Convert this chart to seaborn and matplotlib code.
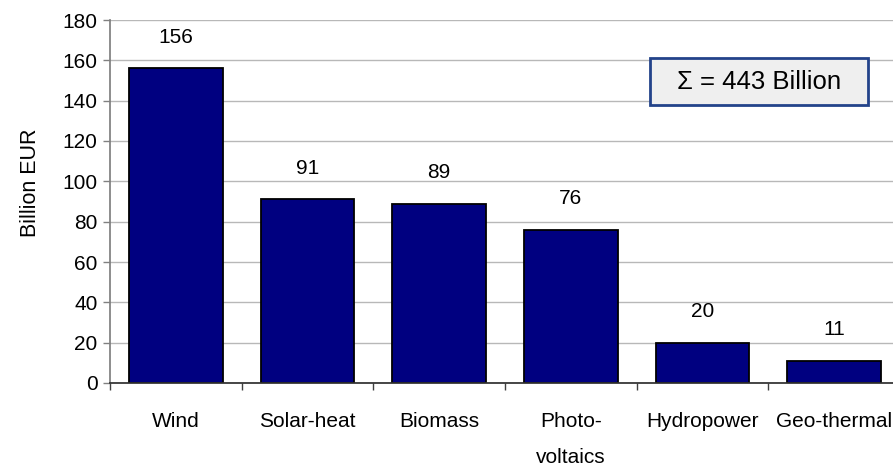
import matplotlib
matplotlib.use("Agg")
import matplotlib.pyplot as plt
from matplotlib.patches import Rectangle
import seaborn as sns
import pandas as pd

categories = ["Wind", "Solar-heat", "Biomass", "Photo-\nvoltaics", "Hydropower", "Geo-thermal"]
values = [156, 91, 89, 76, 20, 11]
yticks = [0, 20, 40, 60, 80, 100, 120, 140, 160, 180]
total_label = "\u03A3 = 443 Billion"

sns.set_theme(style="white")
plt.rcParams['font.family'] = ['Liberation Sans', 'DejaVu Sans']

df = pd.DataFrame({"cat": categories, "val": values})

W, H = 893, 466
fig = plt.figure(figsize=(W / 100, H / 100), dpi=100)
ax = fig.add_axes([110 / W, (H - 383) / H, 790 / W, 363 / H])

sns.barplot(data=df, x="cat", y="val", color="#000080", edgecolor="black",
            linewidth=1.3, width=0.71, saturation=1, ax=ax)

ax.set_ylim(0, 180)
ax.set_xlim(-0.5, len(categories) - 0.5)
ax.set_yticks(yticks)
ax.set_yticklabels([str(t) for t in yticks], fontsize=15)
ax.yaxis.grid(True, color="#b8b8b8", linewidth=1)
ax.set_axisbelow(True)

# x ticks at category boundaries
ax.set_xticks([i - 0.5 for i in range(len(categories) + 1)], minor=False)
ax.set_xticklabels([])
ax.set_xticks(range(len(categories)), minor=True)
ax.set_xticklabels(categories, minor=True, fontsize=15, linespacing=2.1)
ax.tick_params(axis="x", which="minor", length=0, pad=21, colors="black")
ax.tick_params(axis="x", which="major", length=5, width=1, color="#404040", direction="out", bottom=True)
ax.tick_params(axis="y", length=5, width=1, color="#808080", direction="out", left=True, pad=4,
               labelcolor="black")

for s in ["top", "right"]:
    ax.spines[s].set_visible(False)
ax.spines["left"].set_color("#808080")
ax.spines["bottom"].set_color("#303030")

ax.set_xlabel("")
ax.set_ylabel("")
fig.text(30 / W, 1 - 183 / H, "Billion EUR", rotation=90, ha="center", va="center",
         fontsize=15.5, color="black")

for i, v in enumerate(values):
    ax.text(i, v + 15.5, str(v), ha="center", va="center", fontsize=15, color="black")

# summary box
box = Rectangle((650 / W, 1 - 105 / H), 218 / W, 47 / H, transform=fig.transFigure,
                facecolor="#efefef", edgecolor="#23438a", linewidth=2, zorder=5)
fig.patches.append(box)
fig.text(759 / W, 1 - 82 / H, total_label, ha="center", va="center", fontsize=18.5,
         color="black", zorder=6)

fig.savefig("out.png", dpi=100)
